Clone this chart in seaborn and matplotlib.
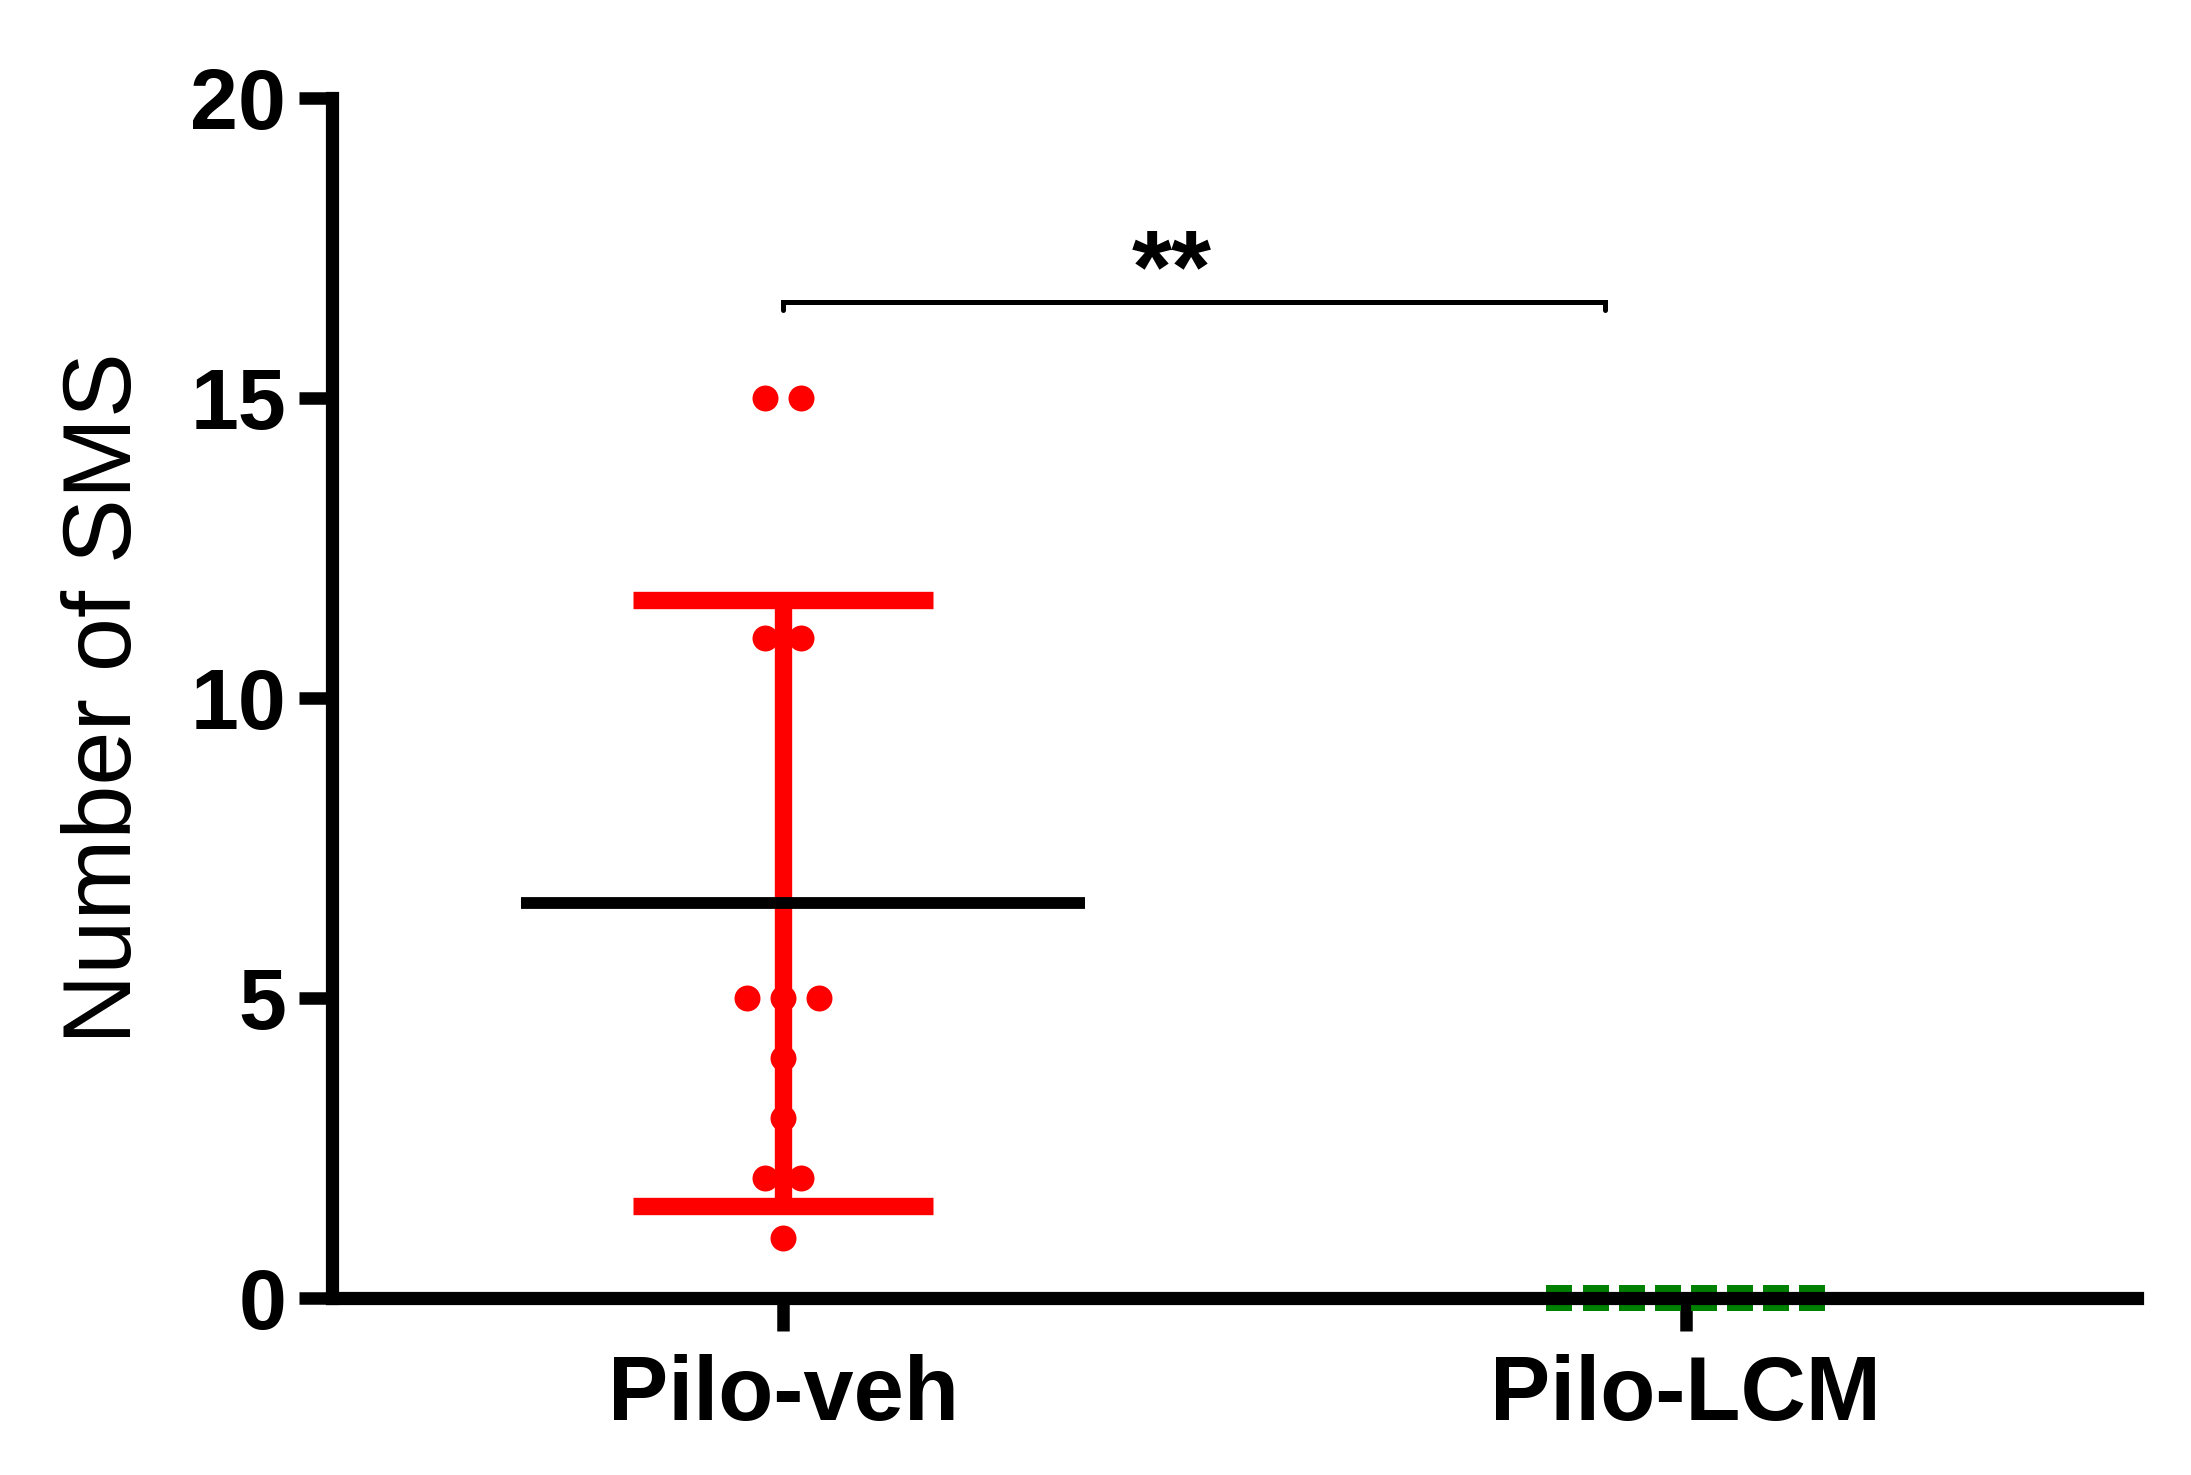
#!/usr/bin/env python

import numpy as np
import pandas as pd
import matplotlib
matplotlib.use("Agg")
import matplotlib.pyplot as plt
import seaborn as sns

# data
groups = ["Pilo-veh", "Pilo-LCM"]
veh_values = [15, 15, 11, 11, 5, 5, 5, 4, 3, 2, 2, 1]
lcm_values = [0, 0, 0, 0, 0, 0, 0, 0]
y_ticks = [0, 5, 10, 15, 20]
y_label = "Number of SMS"
sig_text = "**"

group_colors = ["#FF0000", "#008000"]
group_markers = ["o", "s"]


def centered_offsets(values, step):
    # spread equal values side by side, centred on the category
    values = np.asarray(values, dtype=float)
    offs = np.zeros(len(values))
    for v in np.unique(values):
        idx = np.where(values == v)[0]
        n = len(idx)
        offs[idx] = (np.arange(n) - (n - 1) / 2) * step
    return offs


rows = []
for i, (name, vals) in enumerate(zip(groups, [veh_values, lcm_values])):
    offs = centered_offsets(vals, 0.04)
    for v, o in zip(vals, offs):
        rows.append({"group": name, "pos": i + o, "value": v})
df = pd.DataFrame(rows)

sns.set_style("ticks")
plt.rcParams["font.family"] = ["Liberation Sans", "DejaVu Sans"]
plt.rcParams["text.color"] = "black"
plt.rcParams["axes.labelcolor"] = "black"
plt.rcParams["xtick.color"] = "black"
plt.rcParams["ytick.color"] = "black"

fig = plt.figure(figsize=(21.91, 14.75), dpi=100)
ax = fig.add_axes([0.1515, 0.12, 0.8239, 0.8136])

# mean +/- SD for the vehicle group
veh = np.array(veh_values, dtype=float)
veh_mean = veh.mean()
veh_sd = veh.std(ddof=1)
ax.errorbar(0, veh_mean, yerr=veh_sd, fmt="none", ecolor=group_colors[0],
            elinewidth=12.5, capsize=108, capthick=12.5, zorder=2)
ax.hlines(veh_mean, -0.29, 0.334, color="black", lw=8.5, zorder=4)

for i, name in enumerate(groups):
    sub = df[df["group"] == name]
    sns.scatterplot(data=sub, x="pos", y="value", ax=ax, color=group_colors[i],
                    marker=group_markers[i], s=350, linewidth=0,
                    clip_on=False, zorder=2 if i == 1 else 3, legend=False)

# significance bracket
ax.plot([0, 0, 0.911, 0.911], [16.47, 16.6, 16.6, 16.47], color="black",
        lw=3.6, solid_joinstyle="miter", zorder=3)
ax.text(0.43, 16.6, sig_text, ha="center", va="baseline", fontsize=74,
        fontweight="bold", color="black")

ax.set_xlim(-0.5, 1.5)
ax.set_ylim(0, 20)
ax.set_xticks([0, 1])
ax.set_xticklabels(groups)
ax.set_yticks(y_ticks)
ax.set_xlabel("")
ax.set_ylabel(y_label, fontsize=70, color="black")
ax.yaxis.set_label_coords(-0.10, 0.5)

for lab in ax.get_xticklabels():
    lab.set_fontsize(65)
    lab.set_fontweight("bold")
    lab.set_color("black")
for lab in ax.get_yticklabels():
    lab.set_fontsize(62)
    lab.set_fontweight("bold")
    lab.set_color("black")

ax.tick_params(axis="both", direction="out", length=24, width=9,
               color="black")
ax.tick_params(axis="x", pad=16)
ax.tick_params(axis="y", pad=9)

sns.despine(ax=ax)
for side in ["left", "bottom"]:
    ax.spines[side].set_linewidth(9.5)
    ax.spines[side].set_color("black")
    ax.spines[side].set_capstyle("projecting")

fig.savefig("out.png", dpi=100, facecolor="white")
